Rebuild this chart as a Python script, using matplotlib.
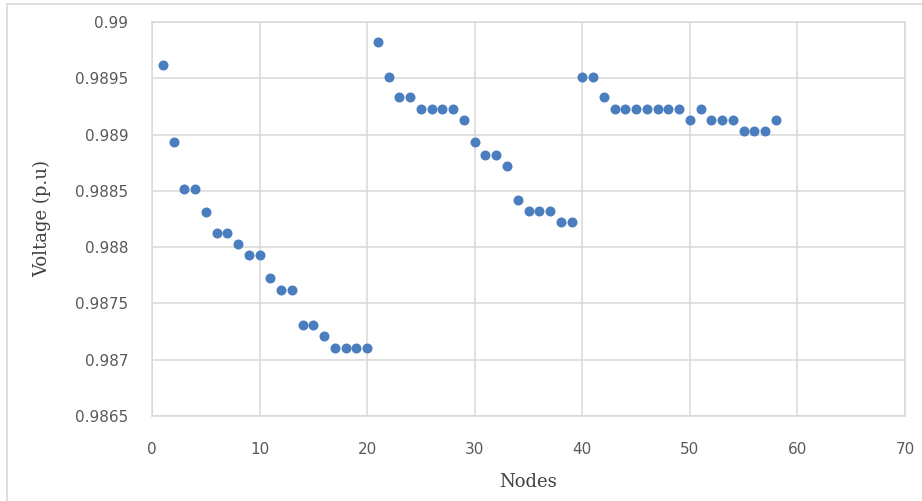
import matplotlib
matplotlib.use("Agg")
import matplotlib.pyplot as plt
from matplotlib.lines import Line2D

nodes = list(range(1, 59))
voltage = [
    0.98962, 0.98893, 0.98852, 0.98852, 0.98831, 0.98813, 0.98813, 0.98803, 0.98793, 0.98793,
    0.98773, 0.98762, 0.98762, 0.98731, 0.98731, 0.98721, 0.98710, 0.98710, 0.98710, 0.98710,
    0.98982, 0.98951, 0.98933, 0.98933, 0.98923, 0.98923, 0.98923, 0.98923, 0.98913, 0.98893,
    0.98882, 0.98882, 0.98872, 0.98842, 0.98832, 0.98832, 0.98832, 0.98822, 0.98822,
    0.98951, 0.98951, 0.98933, 0.98923, 0.98923, 0.98923, 0.98923, 0.98923, 0.98923, 0.98923,
    0.98913, 0.98923, 0.98913, 0.98913, 0.98913, 0.98903, 0.98903, 0.98903, 0.98913,
]
xticks = [0, 10, 20, 30, 40, 50, 60, 70]
yticks = [0.9865, 0.987, 0.9875, 0.988, 0.9885, 0.989, 0.9895, 0.99]
ytick_labels = ["0.9865", "0.987", "0.9875", "0.988", "0.9885", "0.989", "0.9895", "0.99"]

W, H = 922, 501
fig = plt.figure(figsize=(W / 100, H / 100), dpi=100)
ax = fig.add_axes([152 / W, 1 - 416 / H, (905 - 152) / W, (416 - 22) / H])

grid_c = "#D9D9D9"
ax.scatter(nodes, voltage, s=52, color="#4A7EBF", zorder=3, linewidths=0)

ax.set_xlim(0, 70)
ax.set_ylim(0.9865, 0.99)
ax.set_xticks(xticks)
ax.set_yticks(yticks)
ax.set_yticklabels(ytick_labels)
ax.grid(True, color=grid_c, linewidth=1.1)
ax.set_axisbelow(True)
for s in ax.spines.values():
    s.set_color(grid_c)
    s.set_linewidth(1.1)
ax.tick_params(length=0, labelsize=11, labelcolor="#595959")
ax.tick_params(axis="y", pad=17)
ax.tick_params(axis="x", pad=19)

ax.set_xlabel("Nodes", family="DejaVu Serif", fontsize=13, color="#404040", labelpad=11)
ax.set_ylabel("Voltage (p.u)", family="DejaVu Serif", fontsize=13, color="#404040", labelpad=17)

# outer chart border (top and left visible)
fig.add_artist(Line2D([7 / W, 1.0], [1 - 4 / H, 1 - 4 / H], transform=fig.transFigure,
                      color="#D9D9D9", linewidth=1.2))
fig.add_artist(Line2D([7 / W, 7 / W], [0.0, 1 - 4 / H], transform=fig.transFigure,
                      color="#D9D9D9", linewidth=1.2))

fig.savefig("out.png", dpi=100)
